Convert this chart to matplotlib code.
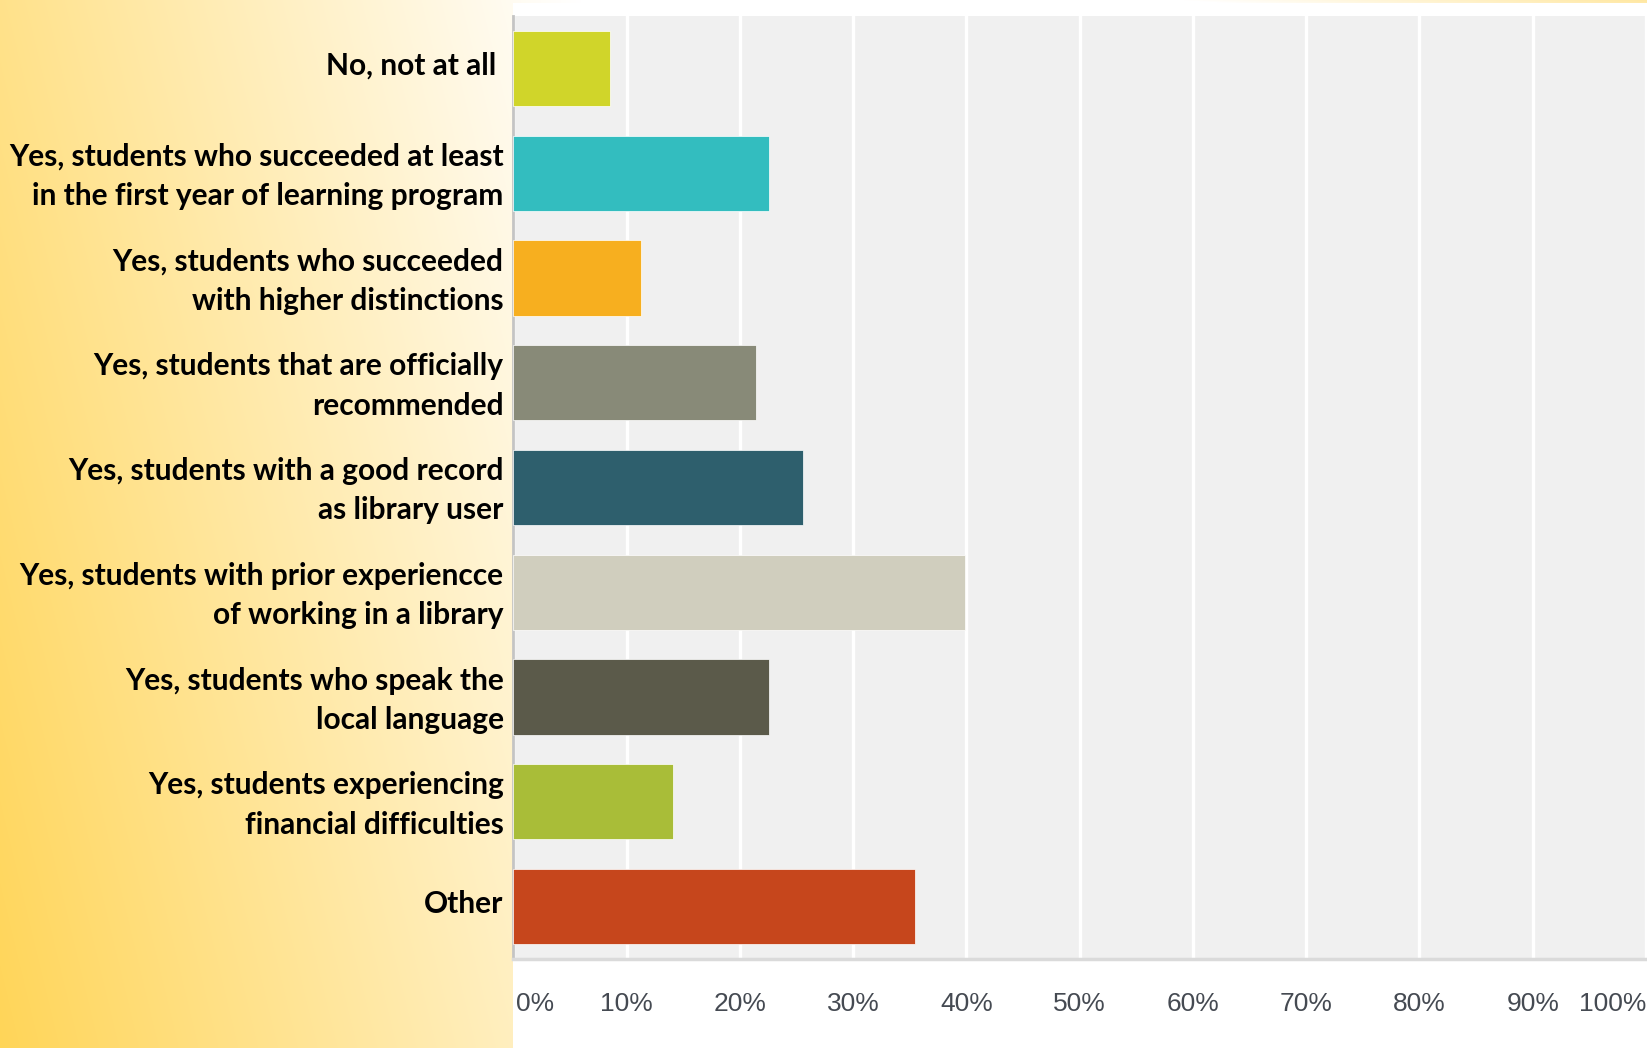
import numpy as np
import matplotlib
matplotlib.use("Agg")
import matplotlib.pyplot as plt
from matplotlib.patches import Rectangle
from matplotlib.transforms import ScaledTranslation

# Survey answers, top to bottom
categories = [
    "No, not at all ",
    "Yes, students who succeeded at least\nin the first year of learning program",
    "Yes, students who succeeded\nwith higher distinctions",
    "Yes, students that are officially\nrecommended",
    "Yes, students with a good record\nas library user",
    "Yes, students with prior experiencce\nof working in a library",
    "Yes, students who speak the\nlocal language",
    "Yes, students experiencing\nfinancial difficulties",
    "Other",
]
# Share of respondents (%)
values = [8.5, 22.6, 11.3, 21.4, 25.6, 39.9, 22.6, 14.1, 35.5]
bar_colors = ["#D0D52A", "#33BDBF", "#F7AF1F", "#888A78", "#2E5F6D",
              "#D0CEBE", "#5B5A4A", "#A9BD38", "#C6461C"]
tick_values = list(range(0, 101, 10))
tick_labels = [f"{v}%" for v in tick_values]

W, H = 1647, 1048
fig = plt.figure(figsize=(W / 100, H / 100), dpi=100)

# Slide background: warm yellow wash from the lower-left and upper-right corners
yy, xx = np.mgrid[0:H, 0:W].astype(float)
a_bl = 1.0 - 0.0012 * xx - 0.00029 * (H - yy)
a_tr = (xx - 1183.0) / 464.0 * 0.56 - 0.02 * yy
alpha = np.clip(np.maximum(a_bl, a_tr), 0, 1)[..., None]
yellow = np.array([255, 213, 88]) / 255.0
white = np.ones(3)
bg = white * (1 - alpha) + yellow * alpha
bg_ax = fig.add_axes([0, 0, 1, 1])
bg_ax.imshow(bg, aspect="auto", extent=[0, W, H, 0], interpolation="bilinear")
bg_ax.add_patch(Rectangle((512.5, 3), W - 512.5, H - 3, facecolor="white", edgecolor="none"))
bg_ax.set_xlim(0, W)
bg_ax.set_ylim(H, 0)
bg_ax.axis("off")

# Chart area
left, right, top, bottom = 513.4, 1646.0, 16.0, 959.0
ax = fig.add_axes([left / W, 1 - bottom / H, (right - left) / W, (bottom - top) / H])
ax.set_facecolor("#F0F0F0")
y = np.arange(len(categories))
ax.barh(y, values, height=0.718, color=bar_colors, edgecolor="white",
        linewidth=0.5, zorder=3)
ax.set_xlim(0, 100)
ax.set_ylim(len(categories) - 0.5, -0.5)

ax.set_xticks(tick_values)
ax.xaxis.grid(True, color="white", linewidth=2.4, zorder=1)
ax.set_axisbelow(True)
ax.tick_params(axis="x", length=0, pad=24, labelsize=19, labelcolor="#454A52")
ax.set_xticklabels(tick_labels, fontfamily="Liberation Sans")
xt = ax.get_xticklabels()
xt[0].set_ha("left")
xt[0].set_transform(xt[0].get_transform() + ScaledTranslation(3 / 100, 0, fig.dpi_scale_trans))
xt[-1].set_ha("right")

ax.set_yticks(y)
ax.set_yticklabels(categories, fontfamily="Lato", fontweight="bold",
                   fontsize=21.5, color="black", linespacing=1.5)
ax.tick_params(axis="y", length=0, pad=7)
lift = ScaledTranslation(0, 5 / 100, fig.dpi_scale_trans)
for lab in ax.get_yticklabels():
    lab.set_transform(lab.get_transform() + lift)

for s in ["top", "right"]:
    ax.spines[s].set_visible(False)
ax.spines["left"].set_color("#C4C4C4")
ax.spines["left"].set_linewidth(2)
ax.spines["bottom"].set_color("#DADADA")
ax.spines["bottom"].set_linewidth(2.5)

fig.savefig("out.png", dpi=100)
